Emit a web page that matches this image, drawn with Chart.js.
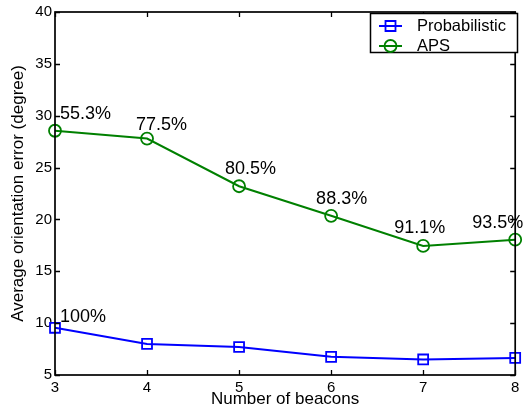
<!DOCTYPE html>
<html>
<head>
<meta charset="utf-8">
<script src="https://cdn.jsdelivr.net/npm/chart.js@4/dist/chart.umd.min.js"></script>
<style>
  html, body { margin: 0; padding: 0; background: #fff; }
  #wrap { width: 524px; height: 410px; position: relative; }
</style>
</head>
<body>
<div id="wrap"><canvas id="c" width="524" height="410"></canvas></div>
<script>
// Number of beacons on the x axis
const beacons = [3, 4, 5, 6, 7, 8];
// Average orientation error (degree)
const probabilistic = [9.55, 8.0, 7.7, 6.75, 6.5, 6.65];
const aps = [28.55, 27.8, 23.2, 20.35, 17.45, 18.05];
// Percentage annotations
const probLabels = ['100%', '', '', '', '', ''];
const apsLabels = ['55.3%', '77.5%', '80.5%', '88.3%', '91.1%', '93.5%'];
// Axis ticks
const xTicks = [3, 4, 5, 6, 7, 8];
const yTicks = [5, 10, 15, 20, 25, 30, 35, 40];

const FONT = "'Liberation Sans', Arial, Helvetica, sans-serif";

const toPoints = (ys) => beacons.map((x, i) => ({ x: x, y: ys[i] }));

// Text offsets (px) of each annotation: left edge and vertical centre relative to its point
const labelOffsets = {
  0: [[5, -11], null, null, null, null, null],
  1: [[5, -17], [-11, -14], [-14, -17], [-15, -17], [-29, -18], [-43, -17]]
};

const annotate = {
  id: 'annotate',
  afterDatasetsDraw(chart) {
    const ctx = chart.ctx;
    const sets = [probLabels, apsLabels];
    ctx.save();
    ctx.font = '18px ' + FONT;
    ctx.fillStyle = '#000';
    ctx.textAlign = 'left';
    ctx.textBaseline = 'middle';
    sets.forEach((labels, di) => {
      const meta = chart.getDatasetMeta(di);
      labels.forEach((t, i) => {
        if (!t) return;
        const el = meta.data[i];
        const off = labelOffsets[di][i];
        ctx.fillText(t, el.x + off[0], el.y + off[1]);
      });
    });
    ctx.restore();
  }
};

// Boxed axes with inward tick marks on all four sides, plus a framed legend
const frame = {
  id: 'frame',
  afterDraw(chart) {
    const ctx = chart.ctx;
    const a = chart.chartArea;
    const xs = chart.scales.x, ys = chart.scales.y;
    const tl = 5;
    ctx.save();
    ctx.strokeStyle = '#000';
    ctx.lineWidth = 1.3;
    ctx.beginPath();
    xTicks.forEach(v => {
      const px = Math.round(xs.getPixelForValue(v)) + 0.5;
      ctx.moveTo(px, a.bottom); ctx.lineTo(px, a.bottom - tl);
      ctx.moveTo(px, a.top); ctx.lineTo(px, a.top + tl);
    });
    yTicks.forEach(v => {
      const py = Math.round(ys.getPixelForValue(v)) + 0.5;
      ctx.moveTo(a.left, py); ctx.lineTo(a.left + tl, py);
      ctx.moveTo(a.right, py); ctx.lineTo(a.right - tl, py);
    });
    ctx.stroke();
    ctx.lineWidth = 1.7;
    ctx.strokeRect(a.left, a.top, a.right - a.left, a.bottom - a.top);

    // legend
    const lx = 370, ly = 13, lw = 147, lh = 39;
    ctx.fillStyle = '#fff';
    ctx.fillRect(lx, ly, lw, lh);
    ctx.lineWidth = 1.5;
    ctx.strokeStyle = '#000';
    ctx.strokeRect(lx + 0.5, ly + 0.5, lw, lh);
    ctx.font = '16.5px ' + FONT;
    ctx.textBaseline = 'middle';
    chart.data.datasets.forEach((ds, i) => {
      const cy = ly + 13 + i * 20;
      ctx.strokeStyle = ds.borderColor;
      ctx.lineWidth = 2;
      ctx.beginPath();
      ctx.moveTo(lx + 9, cy); ctx.lineTo(lx + 32, cy);
      ctx.stroke();
      ctx.lineWidth = 1.8;
      ctx.beginPath();
      if (ds.pointStyle === 'rect') {
        ctx.rect(lx + 20.5 - 5, cy - 5, 10, 10);
      } else {
        ctx.arc(lx + 20.5, cy, 6, 0, Math.PI * 2);
      }
      ctx.stroke();
      ctx.fillStyle = '#000';
      ctx.fillText(ds.label, lx + 47, cy);
    });
    ctx.restore();
  }
};

new Chart(document.getElementById('c'), {
  type: 'line',
  data: {
    datasets: [
      {
        label: 'Probabilistic',
        data: toPoints(probabilistic),
        borderColor: '#0000ff',
        backgroundColor: 'rgba(0,0,0,0)',
        borderWidth: 2,
        pointStyle: 'rect',
        pointRadius: 7,
        pointBorderWidth: 1.8,
        pointBackgroundColor: 'rgba(0,0,0,0)',
        pointBorderColor: '#0000ff',
        tension: 0,
        clip: false
      },
      {
        label: 'APS',
        data: toPoints(aps),
        borderColor: '#008000',
        backgroundColor: 'rgba(0,0,0,0)',
        borderWidth: 2,
        pointStyle: 'circle',
        pointRadius: 6,
        pointBorderWidth: 1.8,
        pointBackgroundColor: 'rgba(0,0,0,0)',
        pointBorderColor: '#008000',
        tension: 0,
        clip: false
      }
    ]
  },
  options: {
    responsive: false,
    animation: false,
    devicePixelRatio: 1,
    layout: { padding: { top: 10, right: 5, left: 0, bottom: 0 } },
    plugins: {
      legend: { display: false },
      tooltip: { enabled: false }
    },
    scales: {
      x: {
        type: 'linear',
        min: 3,
        max: 8,
        afterBuildTicks(s) { s.ticks = xTicks.map(v => ({ value: v })); },
        afterFit(s) { s.height = 35; },
        grid: { display: false, drawTicks: false },
        border: { display: false },
        ticks: {
          color: '#000',
          font: { family: FONT, size: 15 },
          padding: 4,
          maxRotation: 0
        },
        title: {
          display: true,
          text: 'Number of beacons',
          color: '#000',
          font: { family: FONT, size: 17 },
          padding: { top: 0, bottom: 0 }
        }
      },
      y: {
        min: 5,
        max: 40,
        afterBuildTicks(s) { s.ticks = yTicks.map(v => ({ value: v })); },
        afterFit(s) { s.width = 55; },
        grid: { display: false, drawTicks: false },
        border: { display: false },
        ticks: {
          color: '#000',
          font: { family: FONT, size: 15 },
          padding: 3
        },
        title: {
          display: true,
          text: 'Average orientation error (degree)',
          color: '#000',
          font: { family: FONT, size: 17 },
          padding: { top: 8, bottom: 0 }
        }
      }
    }
  },
  plugins: [annotate, frame]
});
</script>
</body>
</html>
